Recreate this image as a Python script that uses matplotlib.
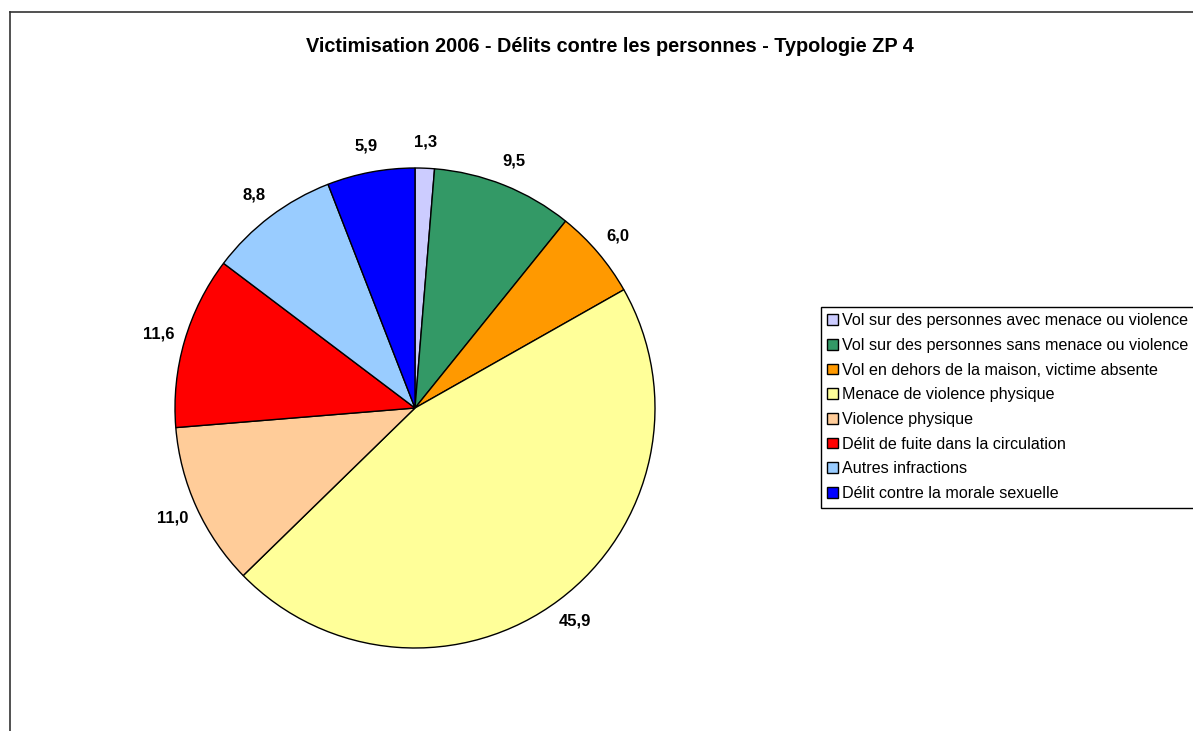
import matplotlib
matplotlib.use('Agg')
import matplotlib.pyplot as plt
from matplotlib.lines import Line2D

plt.rcParams['font.family'] = ['Liberation Sans', 'DejaVu Sans']

categories = ['Vol sur des personnes avec menace ou violence',
              'Vol sur des personnes sans menace ou violence',
              'Vol en dehors de la maison, victime absente',
              'Menace de violence physique',
              'Violence physique',
              'Délit de fuite dans la circulation',
              'Autres infractions',
              'Délit contre la morale sexuelle']
values = [1.3, 9.5, 6.0, 45.9, 11.0, 11.6, 8.8, 5.9]
colors = ['#CCCCFF', '#339966', '#FF9900', '#FFFF99',
          '#FFCC99', '#FF0000', '#99CCFF', '#0000FF']

W, H = 1193, 731
fig = plt.figure(figsize=(W / 100, H / 100), dpi=100)

# chart area border (right and bottom are outside the picture)
fig.add_artist(Line2D([10 / W, 10 / W], [0, 1 - 12 / H], color='#333333', lw=1.2))
fig.add_artist(Line2D([10 / W, 1], [1 - 12 / H, 1 - 12 / H], color='#333333', lw=1.2))

fig.text(610 / W, 1 - 47 / H, 'Victimisation 2006 - Délits contre les personnes - Typologie ZP 4',
         ha='center', va='center', fontsize=14.3, fontweight='bold')

cx, cy, r = 415, 408, 240
ax = fig.add_axes([(cx - r) / W, (H - cy - r) / H, 2 * r / W, 2 * r / H])
wedges, texts, autotexts = ax.pie(values, colors=colors, startangle=90, counterclock=False,
                                  radius=1, autopct=lambda p: f'{p:.1f}'.replace('.', ','),
                                  pctdistance=1.11,
                                  wedgeprops=dict(edgecolor='black', linewidth=1))
for t in autotexts:
    t.set_fontsize(12)
    t.set_fontweight('bold')
ax.set_xlim(-1, 1)
ax.set_ylim(-1, 1)
ax.set_aspect('equal')
ax.axis('off')

leg = fig.legend(wedges, categories, loc='upper left',
                 bbox_to_anchor=(821 / W, 1 - 307 / H), fontsize=11.6,
                 frameon=True, fancybox=False, edgecolor='black', framealpha=1,
                 handlelength=0.65, handleheight=0.65, handletextpad=0.25,
                 labelspacing=0.6, borderpad=0.4, borderaxespad=0)
leg.get_frame().set_linewidth(1)

fig.savefig('out.png', dpi=100)
